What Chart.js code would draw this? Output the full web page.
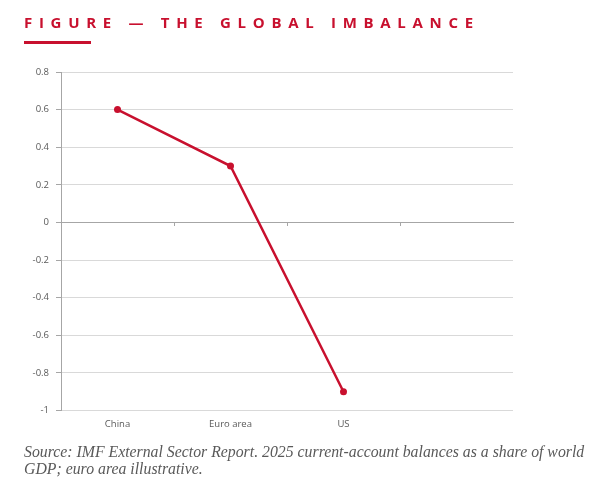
<!DOCTYPE html>
<html>
<head>
<meta charset="utf-8">
<script src="https://cdn.jsdelivr.net/npm/chart.js@4/dist/chart.umd.min.js"></script>
<style>
  html, body { margin: 0; padding: 0; background: #fff; }
  body { width: 612px; height: 492px; position: relative; overflow: hidden; }
  #wrap { position: absolute; left: 0; top: 0; width: 612px; height: 492px; }
  #title {
    position: absolute; left: 24px; top: 12px;
    font-family: "Open Sans", sans-serif; font-weight: 700; font-size: 15px;
    letter-spacing: 6.7px; color: #c8102e; white-space: nowrap;
  }
  #rule { position: absolute; left: 24px; top: 41px; width: 67px; height: 3px; background: #c8102e; }
  #note {
    position: absolute; left: 24px; top: 443px; width: 582px;
    font-family: "Liberation Serif", serif; font-style: italic; font-size: 15.8px;
    line-height: 17px; color: #595959;
  }
</style>
</head>
<body>
<div id="wrap"><canvas id="chart"></canvas></div>
<div id="title">FIGURE — THE GLOBAL IMBALANCE</div>
<div id="rule"></div>
<div id="note">Source: IMF External Sector Report. 2025 current-account balances as a share of world GDP; euro area illustrative.</div>
<script>
const categories = ["China", "Euro area", "US", ""];
const balances = [0.6, 0.3, -0.9, null];
const yMin = -1;
const yMax = 0.8;
const yStep = 0.2;

const red = "#c8102e";
const grid = "#d9d9d9";
const axisGrey = "#a6a6a6";
const labelGrey = "#595959";

new Chart(document.getElementById("chart"), {
  type: "line",
  data: {
    labels: categories,
    datasets: [{
      data: balances,
      borderColor: red,
      backgroundColor: red,
      borderWidth: 2.5,
      pointRadius: 3.5,
      pointBorderWidth: 0,
      tension: 0,
      xAxisID: "x"
    }]
  },
  options: {
    responsive: true,
    maintainAspectRatio: false,
    animation: false,
    layout: { padding: { top: 72, right: 99, bottom: 54, left: 20 } },
    plugins: { legend: { display: false }, tooltip: { enabled: false } },
    scales: {
      x: {
        type: "category",
        offset: true,
        border: { display: false },
        grid: { display: false, drawTicks: false },
        ticks: { color: labelGrey, font: { family: "Open Sans", size: 9.5 }, padding: 8, maxRotation: 0 }
      },
      x0: {
        type: "category",
        labels: categories,
        position: { y: 0 },
        offset: true,
        border: { color: axisGrey, width: 1 },
        grid: {
          offset: true,
          drawOnChartArea: false,
          tickLength: 3,
          color: ctx => (ctx.index >= 1 && ctx.index <= 3) ? axisGrey : "transparent"
        },
        ticks: { display: false }
      },
      y: {
        min: yMin,
        max: yMax,
        afterFit: s => { s.width = 41; },
        border: { color: axisGrey, width: 1 },
        grid: { color: grid, tickColor: axisGrey, tickLength: 5 },
        ticks: {
          stepSize: yStep,
          color: labelGrey,
          font: { family: "Open Sans", size: 9.5 },
          padding: 7,
          callback: v => Math.round(v * 10) / 10
        }
      }
    }
  }
});
</script>
</body>
</html>
